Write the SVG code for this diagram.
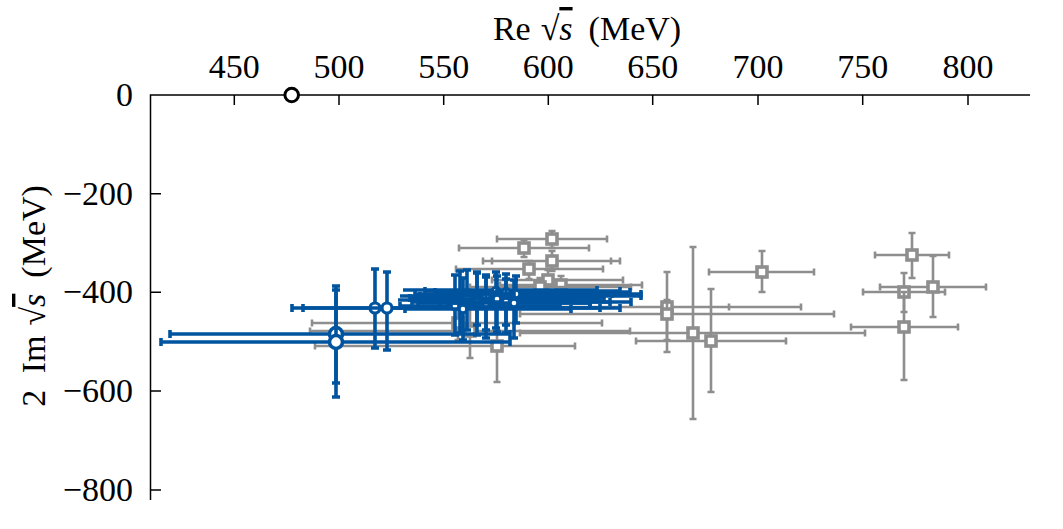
<svg xmlns="http://www.w3.org/2000/svg" xmlns:xlink="http://www.w3.org/1999/xlink" width="1063" height="529" viewBox="0 0 1063 529">
<style>
text{font-family:"Liberation Serif","DejaVu Serif",serif;font-size:34px;fill:#000}
.ax{stroke:#000;stroke-width:1.5;fill:none}
.g{stroke:#8E8E8E;stroke-width:2.6;fill:none}
.b{stroke:#00549F;stroke-width:3.6;fill:none}
.it{font-style:italic}
</style>
<defs>
<rect id="gs" x="-5" y="-5" width="10" height="10" fill="#fff" stroke="#8E8E8E" stroke-width="3.6"/>
<circle id="bs" r="3.8" fill="#fff" stroke="#00549F" stroke-width="3"/>
<circle id="bm" r="5" fill="#fff" stroke="#00549F" stroke-width="3.2"/>
<circle id="bl" r="6.5" fill="#fff" stroke="#00549F" stroke-width="3.6"/>
</defs>
<rect width="1063" height="529" fill="#fff"/>

<g id="axes">
<path class="ax" d="M150 95H1030M150.5 94.3V500"/>
<path class="ax" d="M234.3 95v10M339 95v10M443.7 95v10M548.3 95v10M652.7 95v10M758 95v10M862.7 95v10M968 95v10"/>
<path class="ax" d="M150 193.7h11M150 292.3h11M150 391h11M150 490h11"/>
<g text-anchor="middle">
<text x="234.3" y="78">450</text><text x="339" y="78">500</text><text x="443.7" y="78">550</text><text x="548.3" y="78">600</text>
<text x="652.7" y="78">650</text><text x="758" y="78">700</text><text x="862.7" y="78">750</text><text x="968" y="78">800</text>
</g>
<g text-anchor="end">
<text x="133" y="106">0</text><text x="133" y="204.5">−200</text><text x="133" y="303">−400</text><text x="133" y="401.5">−600</text><text x="133" y="500.5">−800</text>
</g>
<text x="587" y="40" text-anchor="middle" word-spacing="4">Re<tspan dx="10">√</tspan><tspan class="it" text-decoration="overline">s</tspan><tspan dx="16">(MeV)</tspan></text>
<text transform="translate(45,296) rotate(-90)" text-anchor="middle" word-spacing="8">2 Im<tspan dx="10">√</tspan><tspan class="it" text-decoration="overline">s</tspan><tspan dx="16">(MeV)</tspan></text>
</g>

<g id="gray-points">
<g id="R1"><path class="g" d="M709 272H814M762 251V292M709 268.5v7M814 268.5v7M758.5 251h7M758.5 292h7"/><use xlink:href="#gs" x="762" y="272"/></g>
<g id="R2"><path class="g" d="M875 255H949M912 233V278M875 251.5v7M949 251.5v7M908.5 233h7M908.5 278h7"/><use xlink:href="#gs" x="912" y="255"/></g>
<g id="R3"><path class="g" d="M880 287H986M933 256V317M880 283.5v7M986 283.5v7M929.5 256h7M929.5 317h7"/><use xlink:href="#gs" x="933" y="287"/></g>
<g id="R4"><path class="g" d="M863 292H945M904 273V312M863 288.5v7M945 288.5v7M900.5 273h7M900.5 312h7"/><use xlink:href="#gs" x="904" y="292"/></g>
<g id="R5"><path class="g" d="M851 327H958M904 292V380M851 323.5v7M958 323.5v7M900.5 292h7M900.5 380h7"/><use xlink:href="#gs" x="904" y="327"/></g>
<g id="R6"><path class="g" d="M470 307H801M667 272V352M470 303.5v7M801 303.5v7M663.5 272h7M663.5 352h7M729 303.5v7"/><use xlink:href="#gs" x="667" y="307"/></g>
<g id="R7"><path class="g" d="M520 314H834M667 300V340M520 310.5v7M834 310.5v7M663.5 300h7M663.5 340h7"/><use xlink:href="#gs" x="667" y="314"/></g>
<g id="R8"><path class="g" d="M520 333H865M693 247V419M520 329.5v7M865 329.5v7M689.5 247h7M689.5 419h7"/><use xlink:href="#gs" x="693" y="333"/></g>
<g id="R9"><path class="g" d="M636 341H786M711 289V392M636 337.5v7M786 337.5v7M707.5 289h7M707.5 392h7"/><use xlink:href="#gs" x="711" y="341"/></g>
<g id="G1"><path class="g" d="M497 239H607M552 231V248M497 235.5v7M607 235.5v7M548.5 231h7M548.5 248h7"/><use xlink:href="#gs" x="552" y="239"/></g>
<g id="G2"><path class="g" d="M459 248H589M524 240V257M459 244.5v7M589 244.5v7M520.5 240h7M520.5 257h7"/><use xlink:href="#gs" x="524" y="248"/></g>
<g id="G3"><path class="g" d="M483 261H620M552 251V271M483 257.5v7M620 257.5v7M548.5 251h7M548.5 271h7M492 257.5v7M611 257.5v7"/><use xlink:href="#gs" x="552" y="261"/></g>
<g id="G4"><path class="g" d="M456 269H603M529 261V279M456 265.5v7M603 265.5v7M525.5 261h7M525.5 279h7"/><use xlink:href="#gs" x="529" y="269"/></g>
<g id="G5"><path class="g" d="M492 280H623M548 270V290M492 276.5v7M623 276.5v7M544.5 270h7M544.5 290h7"/><use xlink:href="#gs" x="548" y="280"/></g>
<g id="G6"><path class="g" d="M500 285H642M561 276V295M500 281.5v7M642 281.5v7M557.5 276h7M557.5 295h7"/><use xlink:href="#gs" x="561" y="285"/></g>
<g id="G7"><path class="g" d="M470 287H631M540 278V296M470 283.5v7M631 283.5v7M536.5 278h7M536.5 296h7"/><use xlink:href="#gs" x="540" y="287"/></g>
<g id="G8"><path class="g" d="M312 323H602M458 305V340M312 319.5v7M602 319.5v7M454.5 305h7M454.5 340h7"/><use xlink:href="#gs" x="458" y="323"/></g>
<g id="G9"><path class="g" d="M310 331H630M470 305V358M310 327.5v7M630 327.5v7M466.5 305h7M466.5 358h7"/><use xlink:href="#gs" x="470" y="331"/></g>
<g id="G10"><path class="g" d="M315 346H575M497 330V382M315 342.5v7M575 342.5v7M493.5 330h7M493.5 382h7"/><use xlink:href="#gs" x="497" y="346"/></g>
</g>

<g id="blue-points">
<g id="B1a"><path class="b" d="M170 334H510M336 286V383M170 330v8M510 330v8M332 286h8M332 383h8"/><use xlink:href="#bl" x="336" y="334"/></g>
<g id="B1b"><path class="b" d="M161 342H510M336 290V397M161 338v8M510 338v8M332 290h8M332 397h8"/><use xlink:href="#bl" x="336" y="342"/></g>
<g id="B2"><path class="b" d="M292 308H600M375 269V348M292 304v8M600 304v8M371 269h8M371 348h8"/><use xlink:href="#bm" x="375" y="308"/></g>
<g id="B3"><path class="b" d="M303 308H620M387 272V350M303 304v8M620 304v8M383 272h8M383 350h8"/><use xlink:href="#bm" x="387" y="308"/></g>
<g id="C0"><path class="b" d="M403 290H597M400 296H560M398 300H580M460 271V333M456 271h8M456 333h8M597 286v8"/></g>
<g id="C1"><path class="b" d="M400 306H560M455 275V335M400 302v8M560 302v8M451 275h8M451 335h8"/><use xlink:href="#bs" x="455" y="306"/></g>
<g id="C2"><path class="b" d="M405 309H571M463 278V340M405 305v8M571 305v8M459 278h8M459 340h8"/><use xlink:href="#bs" x="463" y="309"/></g>
<g id="C3"><path class="b" d="M410 298H604M467 270V330M410 294v8M604 294v8M463 270h8M463 330h8"/><use xlink:href="#bs" x="467" y="298"/></g>
<g id="C4"><path class="b" d="M415 294H612M477 272V325M415 290v8M612 290v8M473 272h8M473 325h8"/><use xlink:href="#bs" x="477" y="294"/></g>
<g id="C5"><path class="b" d="M412 302H631M477 273V335M412 298v8M631 298v8M473 273h8M473 335h8"/><use xlink:href="#bs" x="477" y="302"/></g>
<g id="C6"><path class="b" d="M420 296H641M486 275V330M420 292v8M641 292v8M482 275h8M482 330h8"/><use xlink:href="#bs" x="486" y="296"/></g>
<g id="C7"><path class="b" d="M418 303H590M486 277V338M418 299v8M590 299v8M482 277h8M482 338h8"/><use xlink:href="#bs" x="486" y="303"/></g>
<g id="C8"><path class="b" d="M425 291H620M496 272V328M425 287v8M620 287v8M492 272h8M492 328h8"/><use xlink:href="#bs" x="496" y="291"/></g>
<g id="C9"><path class="b" d="M430 299H600M497 276V332M430 295v8M600 295v8M493 276h8M493 332h8"/><use xlink:href="#bs" x="497" y="299"/></g>
<g id="C10"><path class="b" d="M435 292H630M506 274V325M435 288v8M630 288v8M502 274h8M502 325h8"/><use xlink:href="#bs" x="506" y="292"/></g>
<g id="C11"><path class="b" d="M440 302H610M506 279V333M440 298v8M610 298v8M502 279h8M502 333h8"/><use xlink:href="#bs" x="506" y="302"/></g>
<g id="C12"><path class="b" d="M445 294H641M516 276V323M445 290v8M641 290v8M512 276h8M512 323h8"/><use xlink:href="#bs" x="516" y="294"/></g>
<g id="C13"><path class="b" d="M448 303H590M514 280V338M448 299v8M590 299v8M510 280h8M510 338h8"/><use xlink:href="#bs" x="514" y="303"/></g>
</g>

<g id="pole">
<circle cx="291.7" cy="95" r="6.8" fill="#fff" stroke="#000" stroke-width="3"/>
</g>
</svg>
